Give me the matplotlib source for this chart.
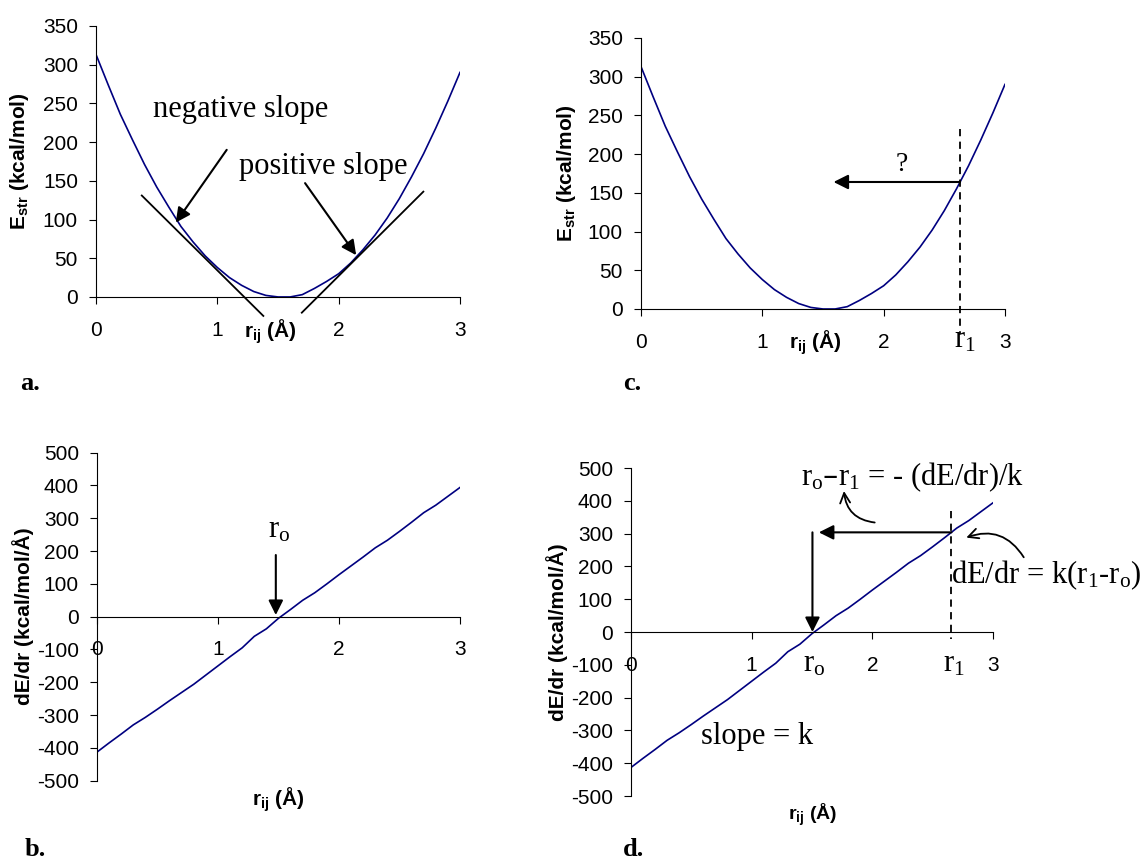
import matplotlib.pyplot as plt

plt.rcParams['font.family'] = 'Liberation Sans'
plt.rcParams['axes.unicode_minus'] = False

# r_ij (Å)
r = [0.0, 0.1, 0.2, 0.3, 0.4, 0.5, 0.6, 0.7, 0.8, 0.9, 1.0,
     1.1, 1.2, 1.3, 1.4, 1.5, 1.6, 1.7, 1.8, 1.9, 2.0,
     2.1, 2.2, 2.3, 2.4, 2.5, 2.6, 2.7, 2.8, 2.9, 3.0]

# E_str (kcal/mol)
E_str = [313, 274, 236, 203, 171, 142, 116, 91, 71, 53, 38,
         25, 15, 7, 2, 0, 0, 3, 11, 20, 30,
         44, 61, 80, 102, 127, 155, 185, 218, 253, 290]

# dE/dr (kcal/mol/Å)
dEdr = [-413, -385, -358, -330, -307, -282, -256, -231, -206, -178, -150,
        -122, -95, -60, -37, -5, 22, 50, 73, 100, 128,
        155, 182, 210, 233, 260, 288, 317, 340, 367, 394]

xticks = [0, 1, 2, 3]
yticks_E = [0, 50, 100, 150, 200, 250, 300, 350]
yticks_d = [-500, -400, -300, -200, -100, 0, 100, 200, 300, 400, 500]

line_color = '#000080'
serif = 'Liberation Serif'

fig = plt.figure(figsize=(11.42, 8.59), dpi=100)
ax_a = fig.add_axes([0.0841, 0.6543, 0.3187, 0.3155])
ax_c = fig.add_axes([0.5613, 0.6403, 0.3187, 0.3155])
ax_b = fig.add_axes([0.0849, 0.0912, 0.3179, 0.3818])
ax_d = fig.add_axes([0.5525, 0.0733, 0.3170, 0.3818])


def style(ax, ylim, yticks):
    ax.plot(r, E_str if ylim[1] == 350 else dEdr, color=line_color, lw=1.2)
    ax.set_xlim(0, 3)
    ax.set_ylim(*ylim)
    ax.set_xticks(xticks)
    ax.set_yticks(yticks)
    ax.spines[['top', 'right']].set_visible(False)
    ax.spines['bottom'].set_position(('data', 0))
    for s in ['left', 'bottom']:
        ax.spines[s].set_linewidth(0.8)
    ax.tick_params(axis='x', direction='out', length=5, pad=12, labelsize=15)
    ax.tick_params(axis='y', direction='out', length=5, pad=8, labelsize=15)


arrow = dict(arrowstyle='-|>', color='black', lw=1.5, mutation_scale=22,
             shrinkA=0, shrinkB=0)

# ---- a ----
style(ax_a, (0, 350), yticks_E)
ax_a.text(-0.21, 0.5, r'$\mathregular{E_{str}}$ (kcal/mol)', transform=ax_a.transAxes,
          rotation=90, ha='center', va='center', fontsize=15, fontweight='bold')
ax_a.text(0.478, -0.129, r'$\mathregular{r_{ij}}$ (Å)', transform=ax_a.transAxes,
          ha='center', va='center', fontsize=15, fontweight='bold')
ax_a.plot([0.377, 1.379], [131, -24.5], color='black', lw=1.3, clip_on=False)
ax_a.plot([1.696, 2.698], [-20.3, 136], color='black', lw=1.3, clip_on=False)
ax_a.annotate('', xy=(0.657, 96), xytext=(1.077, 190), arrowprops=arrow)
ax_a.annotate('', xy=(2.144, 54), xytext=(1.723, 147), arrowprops=arrow)
ax_a.text(1.19, 242, 'negative slope', family=serif, fontsize=22, ha='center', va='center')
ax_a.text(1.87, 168, 'positive slope', family=serif, fontsize=22, ha='center', va='center')

# ---- c ----
style(ax_c, (0, 350), yticks_E)
ax_c.text(-0.206, 0.5, r'$\mathregular{E_{str}}$ (kcal/mol)', transform=ax_c.transAxes,
          rotation=90, ha='center', va='center', fontsize=15, fontweight='bold')
ax_c.text(0.478, -0.125, r'$\mathregular{r_{ij}}$ (Å)', transform=ax_c.transAxes,
          ha='center', va='center', fontsize=15, fontweight='bold')
ax_c.plot([2.63, 2.63], [233, -32], color='black', lw=1.3, ls=(0, (4, 3)), clip_on=False)
ax_c.annotate('', xy=(1.587, 164), xytext=(2.63, 164), arrowprops=arrow)
ax_c.text(2.15, 186, '?', family=serif, fontsize=20, ha='center', va='center')
ax_c.text(2.67, -40, r'$\mathregular{r_1}$', family=serif, fontsize=22, ha='center', va='center')

# ---- b ----
style(ax_b, (-500, 500), yticks_d)
ax_b.text(-0.204, 0.5, r'dE/dr (kcal/mol/Å)', transform=ax_b.transAxes,
          rotation=90, ha='center', va='center', fontsize=15, fontweight='bold')
ax_b.text(0.501, -0.059, r'$\mathregular{r_{ij}}$ (Å)', transform=ax_b.transAxes,
          ha='center', va='center', fontsize=15, fontweight='bold')
ax_b.annotate('', xy=(1.478, 5), xytext=(1.478, 188), arrowprops=arrow)
ax_b.text(1.505, 264, r'$\mathregular{r_o}$', family=serif, fontsize=22, ha='center', va='center')

# ---- d ----
style(ax_d, (-500, 500), yticks_d)
ax_d.text(-0.204, 0.5, r'dE/dr (kcal/mol/Å)', transform=ax_d.transAxes,
          rotation=90, ha='center', va='center', fontsize=15, fontweight='bold')
ax_d.text(0.501, -0.057, r'$\mathregular{r_{ij}}$ (Å)', transform=ax_d.transAxes,
          ha='center', va='center', fontsize=14, fontweight='bold')
ax_d.plot([2.656, 2.656], [369, -20], color='black', lw=1.3, ls=(0, (4, 3)), clip_on=False)
ax_d.annotate('', xy=(1.557, 304), xytext=(2.656, 304), arrowprops=arrow)
ax_d.annotate('', xy=(1.504, 0), xytext=(1.504, 304), arrowprops=arrow)
ax_d.text(1.514, -96, r'$\mathregular{r_o}$', family=serif, fontsize=22, ha='center', va='center')
ax_d.text(2.677, -96, r'$\mathregular{r_1}$', family=serif, fontsize=22, ha='center', va='center')
ax_d.text(2.33, 471, r'$\mathregular{r_o}$–$\mathregular{r_1}$ = - (dE/dr)/k', family=serif,
          fontsize=22, ha='center', va='center')
ax_d.text(2.656, 172, r'dE/dr = k($\mathregular{r_1}$-$\mathregular{r_o}$)', family=serif,
          fontsize=22, ha='left', va='center', clip_on=False)
ax_d.text(1.044, -319, 'slope = k', family=serif, fontsize=22, ha='center', va='center')
curved = dict(arrowstyle='->', color='black', lw=1.3, mutation_scale=18, shrinkA=0, shrinkB=0)
ax_d.annotate('', xy=(1.765, 430), xytext=(2.02, 334),
              arrowprops=dict(curved, connectionstyle='arc3,rad=-0.4'))
ax_d.annotate('', xy=(2.779, 288), xytext=(3.255, 228),
              arrowprops=dict(curved, connectionstyle='arc3,rad=0.4'))

# panel letters
for x, y, s in [(0.0175, 0.554, 'a.'), (0.5455, 0.553, 'c.'),
                (0.0219, 0.0116, 'b.'), (0.5455, 0.0116, 'd.')]:
    fig.text(x, y, s, family=serif, fontweight='bold', fontsize=19, va='center')

fig.savefig('out.png', dpi=100)
